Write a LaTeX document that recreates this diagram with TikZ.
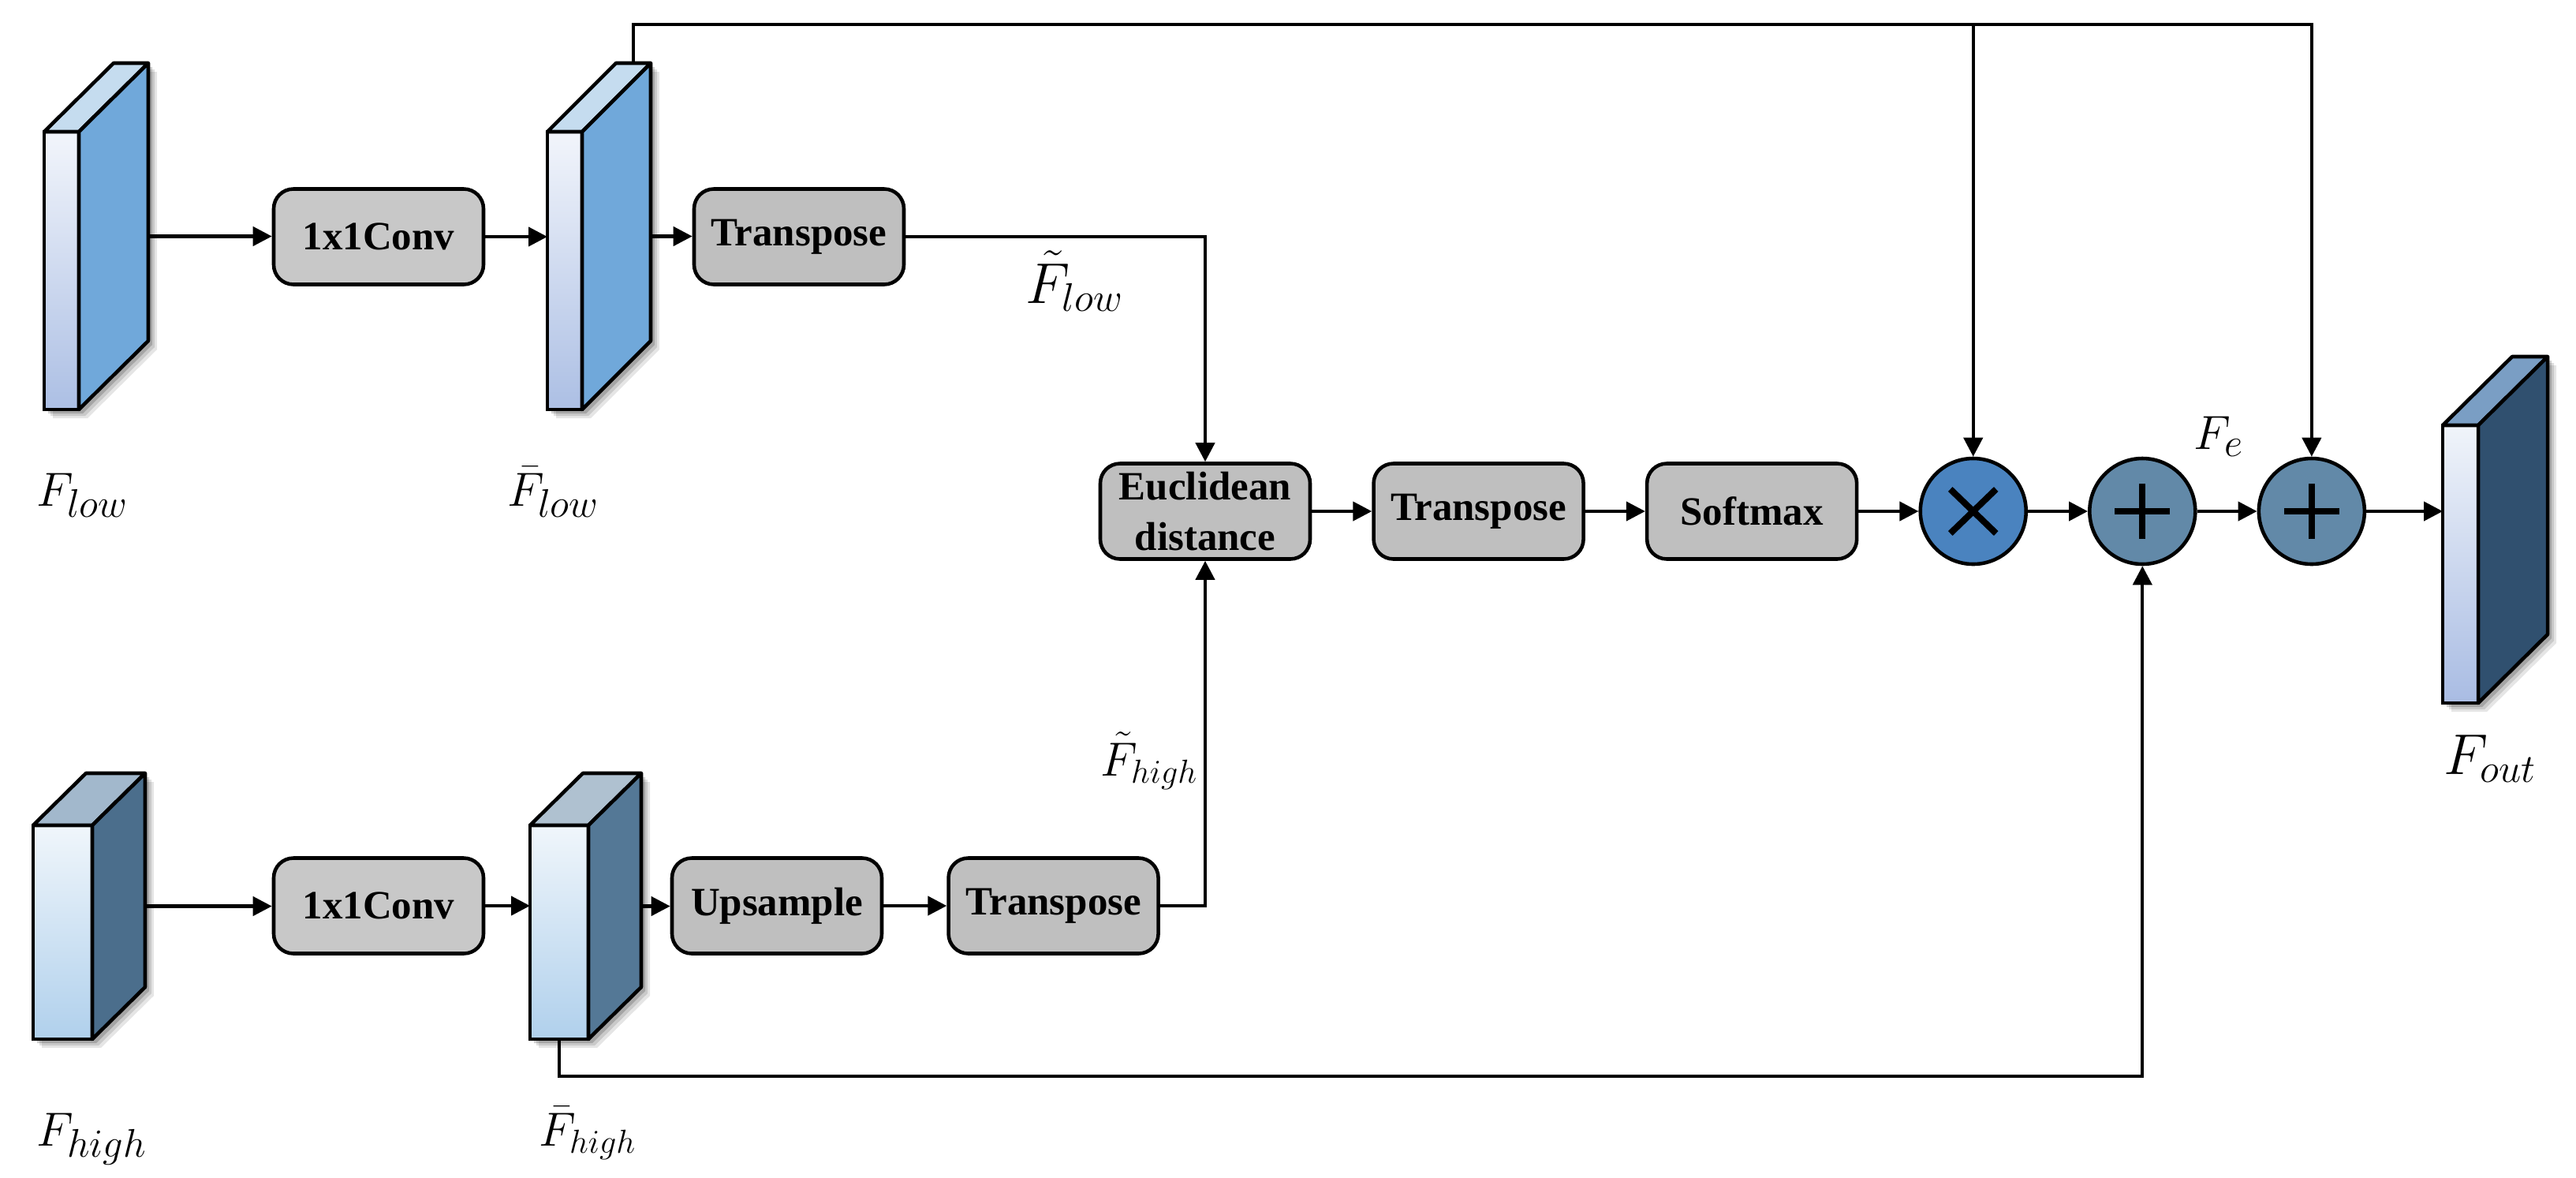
\documentclass[tikz,border=0pt]{standalone}
\usepackage{fontspec}
\setmainfont{Liberation Serif}
\usetikzlibrary{arrows.meta,positioning,backgrounds}
\definecolor{lowtop}{HTML}{C5DCEF}
\definecolor{lowside}{HTML}{70A8DA}
\definecolor{lowfa}{HTML}{F2F5FB}
\definecolor{lowfb}{HTML}{ACBFE4}
\definecolor{hightop}{HTML}{A2B8CC}
\definecolor{highside}{HTML}{4B6E8C}
\definecolor{highfa}{HTML}{F0F6FB}
\definecolor{highfb}{HTML}{B0D0EC}
\definecolor{hbartop}{HTML}{AFC1D0}
\definecolor{hbarside}{HTML}{547896}
\definecolor{outtop}{HTML}{7A9EC4}
\definecolor{outside}{HTML}{30506F}
\definecolor{outfa}{HTML}{F0F4FA}
\definecolor{outfb}{HTML}{A9BCE3}
\definecolor{mulc}{HTML}{4A83BF}
\definecolor{addc}{HTML}{6289A8}
\definecolor{boxgray}{HTML}{BFBFBF}
\definecolor{convgray}{HTML}{C8C8C8}
\tikzset{blk/.style={draw,line width=1.3pt,rounded corners=2.5mm,fill=boxgray,align=center,minimum width=2.66cm,minimum height=1.21cm,inner sep=1pt,font=\fontsize{14.5}{18}\selectfont\bfseries},
arr/.style={-{Triangle[length=2.4mm,width=2.4mm]},line width=1.2pt},
fface/.style={draw,line width=1.3pt,outer sep=0pt,inner sep=0pt},
fline/.style={line width=1.3pt,line join=round},
op/.style={circle,draw,line width=1.3pt,minimum size=1.34cm,inner sep=0pt},
mulsym/.style={path picture={\draw[line width=2.3pt] ([shift={(-.29,-.28)}]path picture bounding box.center) -- ([shift={(.29,.28)}]path picture bounding box.center) ([shift={(-.29,.28)}]path picture bounding box.center) -- ([shift={(.29,-.28)}]path picture bounding box.center);}},
addsym/.style={path picture={\draw[line width=2.3pt] ([shift={(-.35,0)}]path picture bounding box.center) -- ([shift={(.35,0)}]path picture bounding box.center) ([shift={(0,.35)}]path picture bounding box.center) -- ([shift={(0,-.35)}]path picture bounding box.center);}},
lbl/.style={anchor=base west,inner sep=0pt,font=\fontsize{19}{22}\selectfont}}
% feature map: name, at, width, height, dx, dy, front colours, top/side colours
\newcommand{\fmap}[8]{%
\node[fface,top color=#7fa,bottom color=#7fb,minimum width=#3,minimum height=#4] (#1) at #2 {};
\draw[fline,fill=#8top] (#1.north west) -- ++(#5,#6) -- ([shift={(#5,#6)}]#1.north east) -- (#1.north east) -- cycle;
\draw[fline,fill=#8side] (#1.north east) -- ([shift={(#5,#6)}]#1.north east) -- ([shift={(#5,#6)}]#1.south east) -- (#1.south east) -- cycle;
\coordinate (#1-b) at ([shift={(#5,#6/2)}]#1.east);
\coordinate (#1-t) at ([shift={(#5,#6)}]#1.north);
\begin{scope}[on background layer]
\foreach \s/\o in {0.11/0.1,0.08/0.12,0.05/0.18}
\fill[black,opacity=\o] ([shift={(\s,-\s)}]#1.south west) -- ([shift={(\s,-\s)}]#1.north west) -- ([shift={(#5+\s,#6-\s)}]#1.north west) -- ([shift={(#5+\s,#6-\s)}]#1.north east) -- ([shift={(#5+\s,#6-\s)}]#1.south east) -- ([shift={(\s,-\s)}]#1.south east) -- cycle;
\end{scope}}

\begin{document}
\begin{tikzpicture}[node distance=7.6mm]
\useasboundingbox (0,0) rectangle (32.66,-14.92);
% feature maps
\fmap{flow}{(0.78,-3.43)}{0.44cm}{3.52cm}{0.88}{0.87}{low}{low}
\fmap{fbl}{(7.16,-3.43)}{0.44cm}{3.52cm}{0.87}{0.87}{low}{low}
\fmap{fh}{(0.795,-11.815)}{0.75cm}{2.71cm}{0.67}{0.66}{high}{high}
\fmap{fbh}{(7.09,-11.815)}{0.74cm}{2.71cm}{0.67}{0.66}{high}{hbar}
\fmap{fout}{(31.195,-7.15)}{0.45cm}{3.52cm}{0.88}{0.87}{out}{out}
% blocks
\node[blk,fill=convgray] (conv1) at (4.80,-3.0) {1x1Conv};
\node[blk] (tr1) at (10.13,-3.0) {Transpose};
\node[blk,fill=convgray] (conv2) at (4.80,-11.48) {1x1Conv};
\node[blk] (ups) at (9.85,-11.48) {Upsample};
\node[blk,right=8mm of ups] (tr3) {Transpose};
\node[blk] (euc) at (15.28,-6.48) {Euclidean\\distance};
\node[blk,right=of euc] (tr2) {Transpose};
\node[blk,right=of tr2] (soft) {Softmax};
\node[op,fill=mulc,mulsym,right=of soft] (mul) {};
\node[op,fill=addc,addsym,right=of mul] (add1) {};
\node[op,fill=addc,addsym,right=of add1] (add2) {};
\coordinate (topy) at (0,-0.31);
\coordinate (boty) at (0,-13.64);
% connectors
\draw[arr] (flow-b) -- (flow-b -| conv1.west);
\draw[arr] (conv1) -- (conv1 -| fbl.west);
\draw[arr] (fbl-b) -- (fbl-b -| tr1.west);
\draw[arr] (tr1) -| (euc);
\draw[arr] (fh-b) -- (fh-b -| conv2.west);
\draw[arr] (conv2) -- (conv2 -| fbh.west);
\draw[arr] (fbh-b) -- (fbh-b -| ups.west);
\draw[arr] (ups) -- (tr3);
\draw[arr] (tr3) -| (euc);
\draw[arr] (euc) -- (tr2);
\draw[arr] (tr2) -- (soft);
\draw[arr] (soft) -- (mul);
\draw[arr] (mul) -- (add1);
\draw[arr] (add1) -- (add2);
\draw[arr] (add2) -- (add2 -| fout.west);
\draw[arr] (fbl-t) |- (topy -| add2) -- (add2);
\draw[arr] (topy -| mul) -- (mul);
\draw[arr] (fbh.south) |- (boty -| add1) -- (add1);
% labels
\node[lbl] (lflow) at (0.46,-6.41) {$F_{low}$};
\node[lbl] (lfbl) at (6.43,-6.41) {$\bar{F}_{low}$};
\node[lbl] (lfh) at (0.46,-14.52) {$F_{high}$};
\node[lbl,font=\fontsize{17}{20}\selectfont] (lfbh) at (6.83,-14.52) {$\bar{F}_{high}$};
\node[lbl,font=\fontsize{20.7}{24}\selectfont] (lftl) at (13.0,-3.84) {$\tilde{F}_{low}$};
\node[lbl,font=\fontsize{17}{20}\selectfont] (lfth) at (13.95,-9.83) {$\tilde{F}_{high}$};
\node[lbl] (lfe) at (27.81,-5.69) {$F_e$};
\node[lbl,font=\fontsize{20.7}{24}\selectfont] (lfout) at (30.98,-9.81) {$F_{out}$};
\end{tikzpicture}
\end{document}
